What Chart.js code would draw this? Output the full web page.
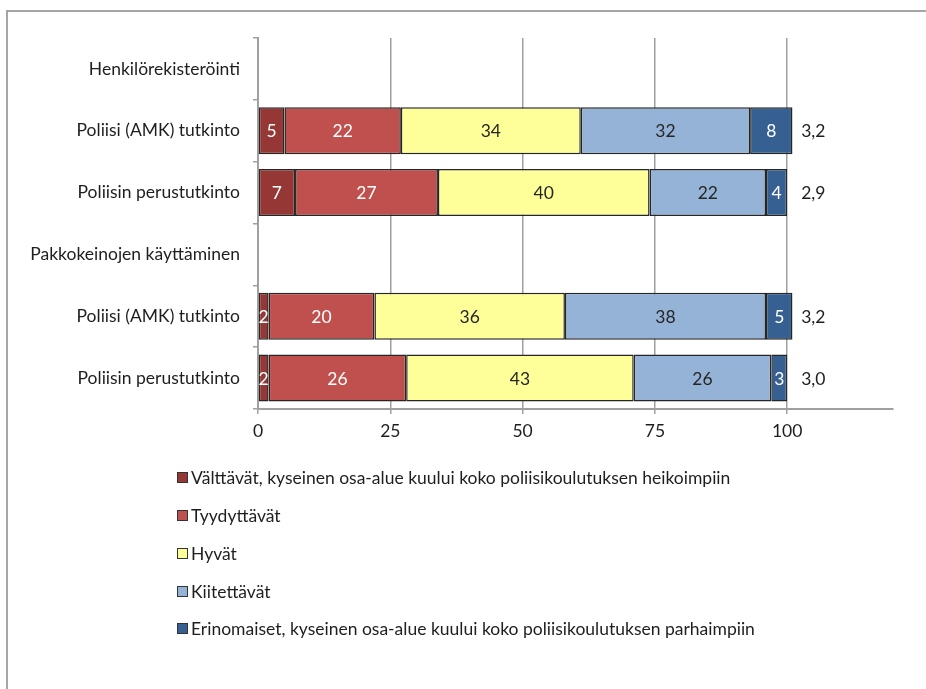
<!DOCTYPE html>
<html>
<head>
<meta charset="utf-8">
<title>Opetuksen arviot</title>
<script src="https://cdn.jsdelivr.net/npm/chart.js@4.4.0/dist/chart.umd.min.js"></script>
<style>
  html, body { margin: 0; padding: 0; background: #fff; }
  body { width: 926px; height: 689px; overflow: hidden; position: relative; font-family: Lato, sans-serif; color: #1e1e1e; }
  #frame { position: absolute; left: 6px; top: 10px; width: 1000px; height: 800px;
           border-top: 2px solid #a6a6a6; border-left: 2px solid #a6a6a6; }
  #chart-wrap { position: absolute; left: 0; top: 0; width: 926px; height: 470px; }
  #legend { position: absolute; left: 177px; top: 459px; margin: 0; padding: 0; list-style: none; }
  #legend li { height: 37.75px; display: flex; align-items: center; font-size: 17.5px; white-space: nowrap; }
  #legend .swatch { width: 9px; height: 9px; border: 1.5px solid #333; margin-right: 3px; flex: none; }
</style>
</head>
<body>
<div id="frame"></div>
<div id="chart-wrap"><canvas id="bars" width="926" height="470"></canvas></div>
<ul id="legend"></ul>

<script>
// rows: two topic headers with their two degree programmes below each
var categories = [
  "Henkilörekisteröinti",
  "Poliisi (AMK) tutkinto",
  "Poliisin perustutkinto",
  "Pakkokeinojen käyttäminen",
  "Poliisi (AMK) tutkinto",
  "Poliisin perustutkinto"
];

// shares in percent, header rows left empty
var valttavat    = [null, 5, 7, null, 2, 2];
var tyydyttavat  = [null, 22, 27, null, 20, 26];
var hyvat        = [null, 34, 40, null, 36, 43];
var kiitettavat  = [null, 32, 22, null, 38, 26];
var erinomaiset  = [null, 8, 4, null, 5, 3];

// mean grade printed right of each bar
var averages = [null, 3.2, 2.9, null, 3.2, 3.0];

var xTicks = [0, 25, 50, 75, 100];

var seriesNames = [
  "Välttävät, kyseinen osa-alue kuului koko poliisikoulutuksen heikoimpiin",
  "Tyydyttävät",
  "Hyvät",
  "Kiitettävät",
  "Erinomaiset, kyseinen osa-alue kuului koko poliisikoulutuksen parhaimpiin"
];
var seriesColors = ["#953735", "#c0504d", "#ffff99", "#95b3d7", "#366092"];
var labelColors = ["#ffffff", "#ffffff", "#262626", "#262626", "#ffffff"];

var gridGray = "#a0a0a0";
var textFont = { family: "Lato", size: 17.5 };

var datasets = [valttavat, tyydyttavat, hyvat, kiitettavat, erinomaiset].map(function(values, i) {
  return {
    label: seriesNames[i],
    data: values,
    backgroundColor: seriesColors[i],
    borderColor: "#262626",
    borderWidth: 1.5,
    borderSkipped: false,
    categoryPercentage: 1,
    barPercentage: 0.76
  };
});

// numbers inside the segments + the mean at the end of each row
var valueLabels = {
  id: "valueLabels",
  afterDatasetsDraw: function(chart) {
    var ctx = chart.ctx;
    ctx.save();
    ctx.font = "17.5px Lato";
    ctx.textAlign = "center";
    ctx.textBaseline = "middle";
    chart.data.datasets.forEach(function(ds, i) {
      chart.getDatasetMeta(i).data.forEach(function(bar, j) {
        var v = ds.data[j];
        if (v == null) return;
        var p = bar.getProps(["x", "base", "y"], true);
        ctx.fillStyle = labelColors[i];
        ctx.fillText(String(v), (p.x + p.base) / 2, p.y + 1);
      });
    });
    var xs = chart.scales.x, ys = chart.scales.y;
    ctx.textAlign = "left";
    ctx.fillStyle = "#1e1e1e";
    averages.forEach(function(a, j) {
      if (a == null) return;
      ctx.fillText(a.toFixed(1).replace(".", ","), xs.getPixelForValue(100) + 14, ys.getPixelForValue(j) + 1);
    });
    ctx.restore();
  }
};

new Chart(document.getElementById("bars"), {
  type: "bar",
  data: { labels: categories, datasets: datasets },
  plugins: [valueLabels],
  options: {
    indexAxis: "y",
    responsive: false,
    animation: false,
    layout: { padding: { top: 38, right: 33, left: 0, bottom: 0 } },
    plugins: {
      legend: { display: false },
      tooltip: { enabled: false }
    },
    scales: {
      x: {
        stacked: true,
        min: 0,
        max: 120,
        afterBuildTicks: function(scale) {
          scale.ticks = xTicks.map(function(v) { return { value: v }; });
        },
        afterFit: function(scale) { scale.height = 61; },
        grid: { color: gridGray, lineWidth: 1.5, tickLength: 5, drawTicks: true },
        border: { display: true, color: gridGray, width: 2 },
        ticks: { color: "#1e1e1e", font: textFont, padding: 7 }
      },
      y: {
        stacked: true,
        afterFit: function(scale) { scale.width = 258; },
        grid: { display: true, drawOnChartArea: false, drawTicks: true, tickLength: 5, offset: true, color: gridGray, lineWidth: 1.5 },
        border: { display: true, color: gridGray, width: 2 },
        ticks: { color: "#1e1e1e", font: textFont, padding: 13 }
      }
    }
  }
});

// legend as a plain list under the chart
var legend = document.getElementById("legend");
seriesNames.forEach(function(name, i) {
  var li = document.createElement("li");
  var sw = document.createElement("span");
  sw.className = "swatch";
  sw.style.background = seriesColors[i];
  li.appendChild(sw);
  li.appendChild(document.createTextNode(name));
  legend.appendChild(li);
});
</script>
</body>
</html>
